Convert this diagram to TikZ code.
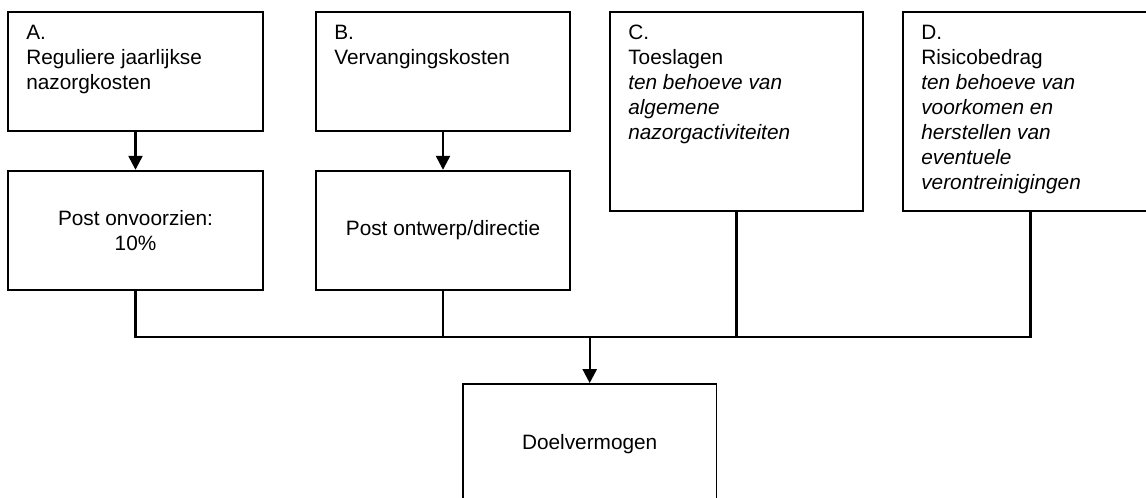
\documentclass[tikz,border=0pt]{standalone}
\usepackage{fontspec}
\setmainfont{Liberation Sans}
\usetikzlibrary{arrows.meta}
\begin{document}
\begin{tikzpicture}[x=1pt,y=-1pt,
  boxnode/.style={draw=black,line width=1.8pt,inner sep=0pt,fill=white,
    font=\fontsize{20.8}{25}\selectfont},
  boxtext/.style={anchor=north west,inner sep=0pt,align=left,
    font=\fontsize{20.8}{25}\selectfont},
  link/.style={draw=black,line width=2.1pt},
  arrowlink/.style={link,line width=2.4pt,-{Triangle[length=14pt,width=14pt]}}]
\useasboundingbox (0,0) rectangle (1146,498);
\clip (0,0) rectangle (1146,498);
% top boxes
\node[boxnode,minimum width=255pt,minimum height=119pt] (A) at (135.5,71.2) {};
\node[boxnode,minimum width=254pt,minimum height=119pt] (B) at (443,71.2) {};
\node[boxnode,minimum width=253pt,minimum height=199.5pt] (C) at (736.5,111.4) {};
\node[boxnode,minimum width=255pt,minimum height=199.5pt] (D) at (1030.5,111.4) {};
% texts of top boxes
\node[boxtext] (At) at ([shift={(19,14)}]A.north west) {A.\\Reguliere jaarlijkse\\nazorgkosten};
\node[boxtext] (Bt) at ([shift={(19,14)}]B.north west) {B.\\Vervangingskosten};
\node[boxtext] (Ct) at ([shift={(19,14)}]C.north west) {C.\\Toeslagen\\\textit{ten behoeve van}\\\textit{algemene}\\\textit{nazorgactiviteiten}};
\node[boxtext] (Dt) at ([shift={(19,14)}]D.north west) {D.\\Risicobedrag\\\textit{ten behoeve van}\\\textit{voorkomen en}\\\textit{herstellen van}\\\textit{eventuele}\\\textit{verontreinigingen}};
% second row
\node[boxnode,minimum width=255pt,minimum height=119.6pt,align=center] (PA) at (135.5,230.5) {Post onvoorzien:\\10\%};
\node[boxnode,minimum width=254pt,minimum height=119.6pt] (PB) at (443,230.5) {Post ontwerp/directie};
% result
\node[boxnode,minimum width=253.5pt,minimum height=120pt] (T) at (589.7,444) {Doelvermogen};
\coordinate (j) at (589.7,337);
% connectors
\draw[arrowlink] (A.south) -- (PA.north);
\draw[arrowlink] (B.south) -- (PB.north);
\draw[link] (PA.south) |- (j);
\draw[link] (PB.south) -- (PB.south |- j);
\draw[link] (C.south) |- (j);
\draw[link] (D.south) |- (j);
\draw[arrowlink] (j) -- (T.north);
\end{tikzpicture}
\end{document}
